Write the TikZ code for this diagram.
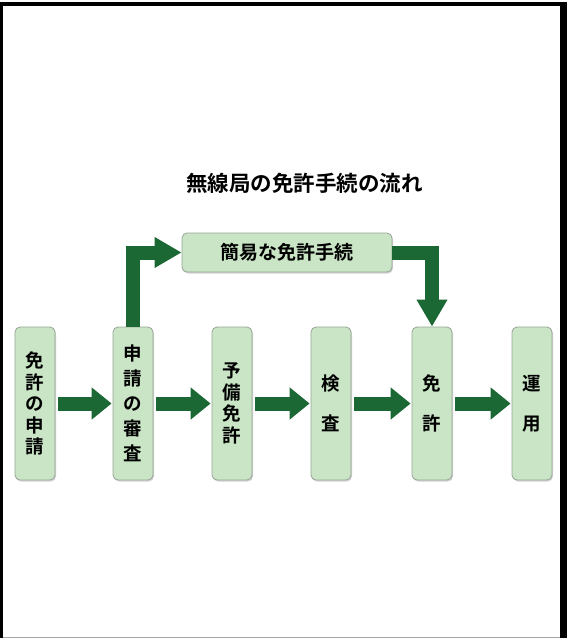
\documentclass[tikz,border=0pt]{standalone}
\usepackage{fontspec}
\newfontfamily\jpfont{Noto Sans CJK JP}[BoldFont={Noto Sans CJK JP Bold}]
\usetikzlibrary{arrows.meta,shadows}
\definecolor{flowgreen}{RGB}{28,104,52}
\definecolor{boxfill}{RGB}{201,229,197}
\definecolor{boxline}{RGB}{150,165,150}

\begin{document}
\begin{tikzpicture}[
  x=1pt, y=-1pt,
  every node/.style={inner sep=0pt, font=\jpfont\bfseries},
  stepbox/.style={draw=boxline, line width=0.8pt, fill=boxfill, rounded corners=5pt,
    minimum width=40pt, minimum height=153pt, align=center,
    drop shadow={shadow xshift=1pt, shadow yshift=-1.5pt, opacity=0.35}},
  widebox/.style={stepbox, minimum width=210pt, minimum height=39pt},
  tighttext/.style={font=\jpfont\bfseries\fontsize{18.5}{21.5}\selectfont},
  loosetext/.style={font=\jpfont\bfseries\fontsize{18.5}{40}\selectfont},
  flow/.style={draw=flowgreen, line width=14pt, line join=miter,
    -{Triangle[width=31pt, length=20pt]}, shorten <=3pt, shorten >=1pt},
  elbow/.style={draw=flowgreen, line width=14pt, line join=miter,
    -{Triangle[width=29pt, length=27pt]}}]

  % ---- page and its frame ---------------------------------------------------
  \fill[white] (0,0) rectangle (567,638);
  \fill[black] (0,2) rectangle (567,6);
  \fill[black] (0,2) rectangle (3,638);
  \fill[black] (560,2) rectangle (567,638);
  \draw[gray!70, line width=1pt] (3,637.5) -- (560,637.5);

  % ---- title ----------------------------------------------------------------
  \node[font=\jpfont\bfseries\fontsize{21.5}{24}\selectfont] (title) at (304.5,183) {無線局の免許手続の流れ};

  % ---- the six steps --------------------------------------------------------
  \node[stepbox, tighttext] (apply) at (35,403.5) {免\\許\\の\\申\\請};
  \node[stepbox, font=\jpfont\bfseries\fontsize{18.5}{25}\selectfont] (review) at (133,403.5) {申\\請\\の\\審\\査};
  \node[stepbox, tighttext] (prelim) at (232,403.5) {予\\備\\免\\許};
  \node[stepbox, loosetext] (inspect) at (331,403.5) {検\\査};
  \node[stepbox, loosetext] (license) at (432,403.5) {免\\許};
  \node[stepbox, loosetext] (operate) at (532,403.5) {運\\用};

  % ---- the short cut --------------------------------------------------------
  \node[widebox, font=\jpfont\bfseries\fontsize{19}{22}\selectfont] (simple) at (287,252.5) {簡易な免許手続};

  % ---- arrows ---------------------------------------------------------------
  \draw[flow] (apply) -- (review);
  \draw[flow] (review) -- (prelim);
  \draw[flow] (prelim) -- (inspect);
  \draw[flow] (inspect) -- (license);
  \draw[flow] (license) -- (operate);
  \draw[elbow] (review.north) |- (simple.west);
  \draw[elbow] (simple.east) -| (license.north);
\end{tikzpicture}
\end{document}
